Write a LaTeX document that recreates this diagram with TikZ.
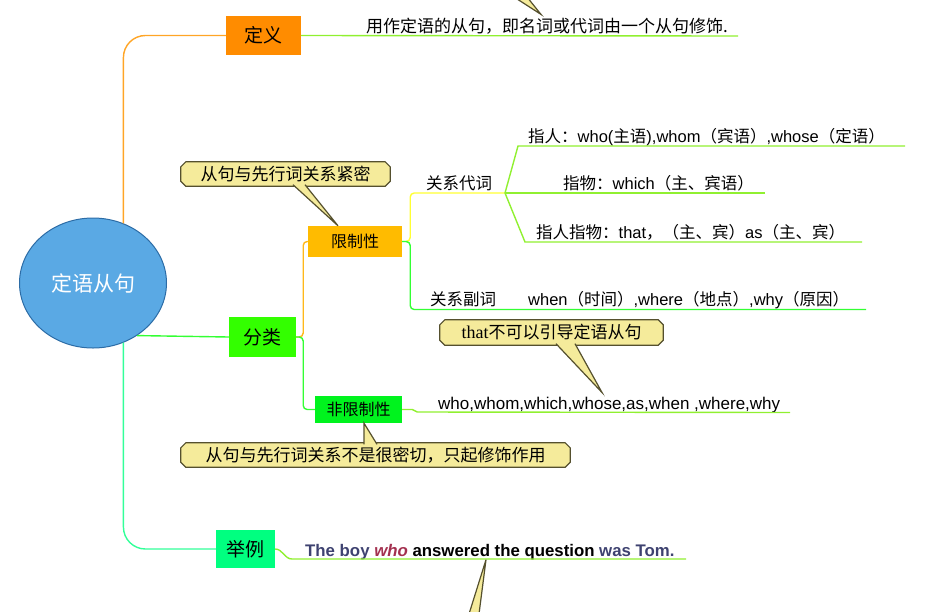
\documentclass[tikz,border=0pt]{standalone}
\usepackage{fontspec}
\setmainfont{Liberation Sans}
\newfontfamily\cjk{Noto Sans CJK SC}
\newfontfamily\seren{Liberation Serif}
\usetikzlibrary{shapes.geometric,backgrounds}
\definecolor{rootfill}{HTML}{5AA9E4}
\definecolor{rootedge}{HTML}{2C6CA6}
\definecolor{deforange}{HTML}{FF8C00}
\definecolor{clsgreen}{HTML}{33FF00}
\definecolor{exagreen}{HTML}{00FF80}
\definecolor{resamber}{HTML}{FFBB00}
\definecolor{nresgreen}{HTML}{00F31E}
\definecolor{lorange}{HTML}{FFA526}
\definecolor{lgreen}{HTML}{33FF33}
\definecolor{lspring}{HTML}{33FF99}
\definecolor{lamber}{HTML}{FFB81A}
\definecolor{lyellow}{HTML}{FFFF33}
\definecolor{llime}{HTML}{90F030}
\definecolor{notefill}{HTML}{F5EB9B}
\definecolor{noteedge}{HTML}{55502E}
\definecolor{slate}{HTML}{3E4270}
\definecolor{wine}{HTML}{A3304F}
\newcommand\la[1]{{\rmfamily#1}}
\begin{document}
\begin{tikzpicture}[x=1pt,y=-1pt,
  topic/.style={rectangle,inner sep=0pt,font=\cjk\fontsize{19}{22}\selectfont},
  sub/.style={rectangle,inner sep=0pt,font=\cjk\fontsize{16}{19}\selectfont},
  leaf/.style={anchor=base west,inner sep=0pt,font=\cjk\fontsize{16.5}{19}\selectfont},
  note/.style={rectangle,inner sep=0pt,font=\cjk\fontsize{17}{20}\selectfont},
  link/.style={line width=1.4pt},
  pointer/.style={draw=noteedge,line width=1.2pt}]
\useasboundingbox (0,0) rectangle (926,611);
\node[ellipse,minimum width=147pt,minimum height=130pt,fill=rootfill,draw=rootedge,line width=1pt,
  text=white,font=\cjk\fontsize{21}{24}\selectfont] (root) at (93,283) {定语从句};
\node[topic,fill=deforange,minimum width=75pt,minimum height=39pt] (def) at (263.5,35.5) {定义};
\node[topic,fill=clsgreen,minimum width=67pt,minimum height=40pt] (cls) at (262.5,337) {分类};
\node[topic,fill=exagreen,minimum width=59pt,minimum height=38pt] (exa) at (245.5,549) {举例};
\node[sub,fill=resamber,minimum width=94pt,minimum height=31pt] (res) at (355,241.5) {限制性};
\node[sub,fill=nresgreen,minimum width=87pt,minimum height=27pt] (nres) at (358.5,409.5) {非限制性};

\node[leaf,font=\cjk\fontsize{17}{20}\selectfont] (deftxt) at (366,32) {用作定语的从句，即名词或代词由一个从句修饰.};
\node[leaf] (pron) at (426,189) {关系代词};
\node[leaf] (adv) at (430,305) {关系副词};
\node[leaf] (person) at (528,142) {指人：\la{who(}主语\la{),whom}（宾语）\la{,whose}（定语）};
\node[leaf] (thing) at (563,189) {指物：\la{which}（主、宾语）};
\node[leaf] (both) at (536,238) {指人指物：\la{that}，（主、宾）\la{as}（主、宾）};
\node[leaf] (when) at (528,305) {\la{when}（时间）\la{,where}（地点）\la{,why}（原因）};
\node[leaf,font=\rmfamily\fontsize{17}{20}\selectfont] (list) at (438,409) {who,whom,which,whose,as,when ,where,why};
\node[leaf,font=\rmfamily\bfseries\fontsize{16.8}{20}\selectfont] (sent) at (305,556)
  {\textcolor{slate}{The boy} \textcolor{wine}{\itshape who} answered the question \textcolor{slate}{was Tom.}};

\node[note,minimum width=209pt,minimum height=24pt] (n1) at (285.5,174) {从句与先行词关系紧密};
\node[note,minimum width=223pt,minimum height=25pt] (n2) at (551.5,332.5) {{\seren\fontsize{18}{20}\selectfont that}不可以引导定语从句};
\node[note,minimum width=389pt,minimum height=24pt] (n3) at (375.5,455) {从句与先行词关系不是很密切，只起修饰作用};
\begin{scope}[on background layer]
\foreach \n in {n1,n2,n3}
  \filldraw[fill=notefill,draw=noteedge,line width=1.2pt]
    ([xshift=5pt]\n.north west) -- ([xshift=-5pt]\n.north east) -- ([yshift=-5pt]\n.north east)
    -- ([yshift=5pt]\n.south east) -- ([xshift=-5pt]\n.south east) -- ([xshift=5pt]\n.south west)
    -- ([yshift=5pt]\n.south west) -- ([yshift=-5pt]\n.north west) -- cycle;
\end{scope}

\coordinate (pj) at (505,193);
\coordinate (p1s) at (518,146);
\coordinate (p1e) at (905,146);
\coordinate (p2e) at (765,193);
\coordinate (p3s) at (525,242);
\coordinate (p3e) at (862,242);
\coordinate (advend) at (866,309.5);
\coordinate (defend) at (738,36);
\coordinate (listend) at (790,412.5);
\coordinate (ex0) at (292,559);
\coordinate (exend) at (686,559);

\draw[link,lorange,rounded corners=22pt] (root.63) |- (def.west);
\draw[link,lgreen] (root.-50) -- (cls.west);
\draw[link,lspring,rounded corners=22pt] (root.-63) |- (exa.west);
\draw[link,lamber,rounded corners=4pt] (cls.east) -- ++(7,0) |- (res.west);
\draw[link,lgreen,rounded corners=4pt] (cls.east) -- ++(7,0) |- (nres.west);
\draw[link,lyellow,rounded corners=4pt] (res.east) -- ++(8,0) |- (pj);
\draw[link,lgreen,rounded corners=4pt] (res.east) -- ++(8,0) |- (advend);
\foreach \s/\e in {p1s/p1e,pj/p2e,p3s/p3e}
  \draw[link,llime] (pj) -- (\s) -- (\e);
\draw[link,llime] (def.east) -- (defend);
\draw[link,llime] (nres.east) -- ++(10,0) -- ++(5,2.5) -- (listend);
\draw[link,llime] (exa.east) to[out=0,in=180] (ex0) -- (exend);

\coordinate (n1a) at ([xshift=7.5pt,yshift=1.5pt]n1.south);
\coordinate (n1b) at ([xshift=19.5pt,yshift=1.5pt]n1.south);
\coordinate (t1) at ([xshift=-17pt]res.north);
\coordinate (n2a) at ([xshift=4.5pt,yshift=1.5pt]n2.south);
\coordinate (n2b) at ([xshift=23.5pt,yshift=1.5pt]n2.south);
\coordinate (t2) at ([xshift=164pt,yshift=4pt]list.north west);
\coordinate (n3a) at ([xshift=-11.5pt,yshift=-1.5pt]n3.north);
\coordinate (n3b) at ([xshift=1.5pt,yshift=-1.5pt]n3.north);
\coordinate (t3) at ([xshift=5.5pt]nres.south);
\coordinate (offa) at (514,-3);
\coordinate (offb) at (527,-3);
\coordinate (t4) at ([xshift=175pt,yshift=3pt]deftxt.north west);
\coordinate (offc) at (469,614);
\coordinate (offd) at (479,614);
\coordinate (t5) at ([xshift=181pt]sent.south west);
\foreach \a/\t/\b in {n1a/t1/n1b,n2a/t2/n2b,n3a/t3/n3b,offa/t4/offb,offc/t5/offd}{
  \fill[notefill] (\a) -- (\t) -- (\b) -- cycle;
  \draw[pointer] (\a) -- (\t) -- (\b);
}
\end{tikzpicture}
\end{document}
